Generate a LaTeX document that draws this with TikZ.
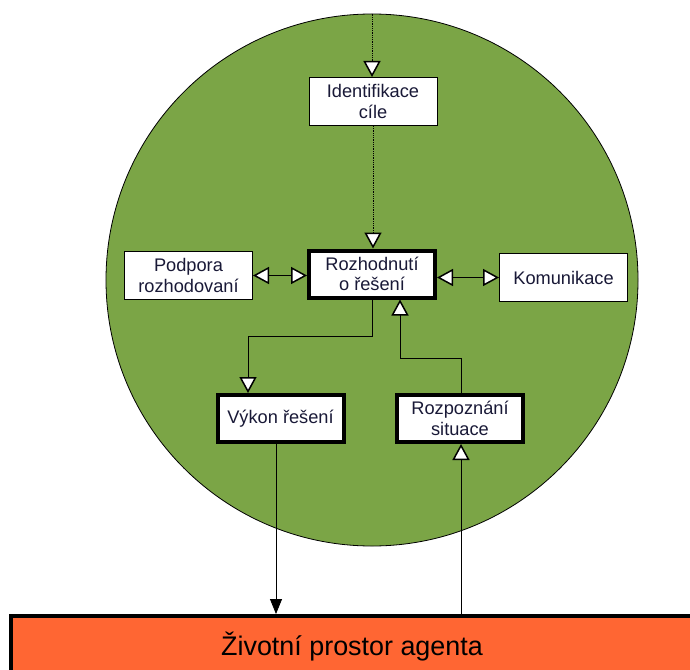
\documentclass[tikz,border=0pt]{standalone}
\usepackage{fontspec}
\setmainfont{Liberation Sans}
\usetikzlibrary{arrows.meta, positioning, shapes.geometric}
\definecolor{spacegreen}{RGB}{123,165,70}
\definecolor{agentorange}{RGB}{255,102,51}
\definecolor{boxtext}{RGB}{25,25,55}

\begin{document}
\begin{tikzpicture}
[x=1bp, y=-1bp,
ThinNode/.style={rectangle, draw=black, line width=1bp, fill=white,
inner sep=0pt, minimum width=128bp, minimum height=48bp, align=center,
text=boxtext, font=\fontsize{18.3}{20.5}\selectfont},
ThickNode/.style={ThinNode, line width=4bp, minimum width=126bp, minimum height=47bp},
SpaceNode/.style={circle, draw=black, line width=0.8bp, fill=spacegreen,
inner sep=0pt, minimum size=532bp},
AgentNode/.style={rectangle, draw=black, line width=4bp, fill=agentorange,
inner sep=0pt, minimum width=682bp, minimum height=62bp,
font=\fontsize{27}{30}\selectfont},
OpenTri/.tip={Triangle[fill=white, length=16bp, width=17bp, line width=1.5bp]},
Link/.style={line width=0.8bp, -OpenTri},
BothLink/.style={line width=0.8bp, OpenTri-OpenTri},
DottedLink/.style={Link, densely dotted},
FilledLink/.style={line width=0.8bp, -{Triangle[length=15bp, width=12bp]}}
]
\useasboundingbox[fill=white] (0,0) rectangle (690,670);

\node[SpaceNode] (Prostor) at (372,280) {};
\node[AgentNode] (Agent) at (352,647) {Životní prostor agenta};

\node[ThinNode] (Identifikace) at (373,101.5) {Identifikace\\cíle};
\node[ThinNode] (Podpora) at (188.5,275.5) {Podpora\\rozhodovaní};
\node[ThickNode] (Rozhodnuti) at (372,274) {Rozhodnutí\\o řešení};
\node[ThinNode] (Komunikace) at (563.5,277.5) {Komunikace};
\node[ThickNode] (Vykon) at (280.5,418.5) {Výkon řešení};
\node[ThickNode] (Rozpoznani) at (460,418.5) {Rozpoznání\\situace};

\draw[DottedLink] (Prostor.north) -- (Prostor.north |- Identifikace.north);
\draw[DottedLink] (Identifikace.south) -- (Identifikace.south |- Rozhodnuti.north);
\draw[BothLink] (Podpora.east) -- (Podpora.east -| Rozhodnuti.west);
\draw[BothLink] (Rozhodnuti.east |- Komunikace.west) -- (Komunikace.west);

\draw[Link] (Rozhodnuti.south) -- ++(0,37) -| ([xshift=-32.5bp]Vykon.north);
\draw[Link] ([xshift=1bp]Rozpoznani.north) -- ++(0,-35) -| ([xshift=28bp]Rozhodnuti.south);

\draw[FilledLink] ([xshift=-4.5bp]Vykon.south) -- ([xshift=-4.5bp]Vykon.south |- Agent.north);
\draw[Link] ([xshift=1bp]Rozpoznani.south |- Agent.north) -- ([xshift=1bp]Rozpoznani.south);
\end{tikzpicture}
\end{document}
